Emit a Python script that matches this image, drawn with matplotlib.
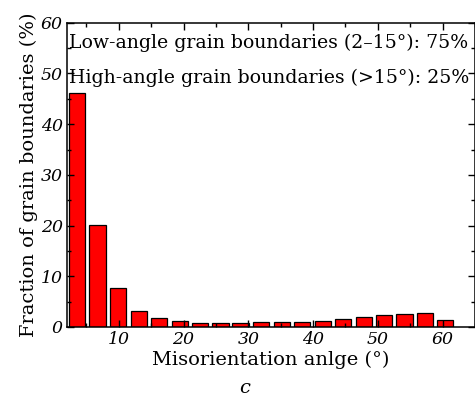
import matplotlib
matplotlib.use("Agg")
import matplotlib.pyplot as plt
from matplotlib.ticker import MultipleLocator

# misorientation histogram, bin centres in degrees
angle_centres = [3.6, 6.7, 9.9, 13.1, 16.2, 19.4, 22.5, 25.7, 28.8, 32.0,
                 35.2, 38.3, 41.5, 44.6, 47.8, 50.9, 54.1, 57.3, 60.4]
fraction = [46.2, 20.2, 7.7, 3.2, 1.8, 1.2, 0.85, 0.8, 0.85, 0.9,
            0.95, 0.9, 1.25, 1.55, 1.9, 2.35, 2.5, 2.7, 1.3]
x_ticks = [10, 20, 30, 40, 50, 60]
y_ticks = [0, 10, 20, 30, 40, 50, 60]

LOW_TEXT = "Low-angle grain boundaries (2\u201315\u00b0): 75%"
HIGH_TEXT = "High-angle grain boundaries (>15\u00b0): 25%"

plt.rcParams["font.family"] = ["DejaVu Serif"]

fig = plt.figure(figsize=(4.75, 3.99), dpi=100)
ax = fig.add_axes([0.141, 0.1805, 0.859, 0.7625])

ax.bar(angle_centres, fraction, width=2.5, color="#ff0000",
       edgecolor="black", linewidth=0.9, zorder=2)

ax.set_xlim(2, 65)
ax.set_ylim(0, 60)
ax.set_xticks(x_ticks)
ax.set_yticks(y_ticks)
ax.xaxis.set_minor_locator(MultipleLocator(5))
ax.yaxis.set_minor_locator(MultipleLocator(5))
ax.tick_params(which="both", direction="in", top=True, right=True,
               labelsize=12.5, pad=3, width=1)
ax.tick_params(which="major", length=5)
ax.tick_params(which="minor", length=3)
for lab in ax.get_xticklabels() + ax.get_yticklabels():
    lab.set_fontstyle("italic")
for sp in ax.spines.values():
    sp.set_linewidth(1.1)
ax.set_axisbelow(False)

ax.text(0.004, 0.917, LOW_TEXT, transform=ax.transAxes, fontsize=13.6,
        va="baseline", ha="left")
ax.text(0.004, 0.802, HIGH_TEXT, transform=ax.transAxes, fontsize=13.6,
        va="baseline", ha="left")

ax.set_xlabel("Misorientation anlge (\u00b0)", fontsize=14, labelpad=2)
ax.set_ylabel("Fraction of grain boundaries (%)", fontsize=14, labelpad=2)

fig.text(0.515, 0.004, "c", fontsize=14, fontstyle="italic",
         ha="center", va="bottom")

fig.savefig("out.png", dpi=100)
